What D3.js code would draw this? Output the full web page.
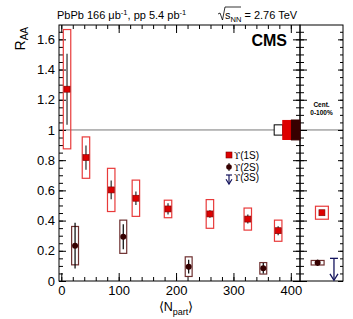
<!DOCTYPE html>
<html>
<head>
<meta charset="utf-8">
<script src="https://cdn.jsdelivr.net/npm/d3@7"></script>
<style>
  body { margin: 0; background: #fff; }
  svg { font-family: "Liberation Sans", Arial, sans-serif; }
</style>
</head>
<body>
<svg id="chart" width="353" height="319"></svg>
<script>
// Upsilon(1S) vs centrality
const npart1S = [10, 43, 87, 130, 186, 259, 325, 378];
const raa1S = [1.27, 0.817, 0.603, 0.548, 0.477, 0.444, 0.41, 0.333];
const stat1S = [0.235, 0.08, 0.062, 0.045, 0.037, 0.025, 0.03, 0.03];
const syst1S = [0.395, 0.137, 0.143, 0.12, 0.058, 0.095, 0.073, 0.07];

// Upsilon(2S) vs centrality
const npart2S = [24, 108, 222, 352];
const raa2S = [0.234, 0.293, 0.095, 0.084];
const stat2S = [0.152, 0.083, 0.045, 0.035];
const syst2S = [0.127, 0.11, 0.065, 0.038];

// centrality integrated (0-100%)
const intRaa1S = 0.452, intStat1S = 0.012, intSyst1S = 0.043;
const intRaa2S = 0.121, intStat2S = 0.02, intSyst2S = 0.015;
const limit3S = 0.15;

// global uncertainties at R_AA = 1: lumi, 1S pp, 2S pp
const globalNames = ["lumi", "1S", "2S"];
const globalUnc = [0.034, 0.063, 0.066];

const yMajor = [0, 0.2, 0.4, 0.6, 0.8, 1, 1.2, 1.4, 1.6];
const xMajor = [0, 100, 200, 300, 400];

const svg = d3.select("#chart");
const pLeft = 59, pRight = 300, pTop = 25, pBottom = 281, sideRight = 343;

let x = d3.scaleLinear().domain([-4, 416]).range([pLeft, pRight]);
let y = d3.scaleLinear().domain([0, 1.695]).range([pBottom, pTop]);
let xs = d3.scaleLinear().domain([0, 1]).range([pRight, sideRight]);

const red = "#dd0000", redBox = "#e83a3a", dark = "#360000", darkBox = "#6e3030", navy = "#15155e";

let yMinor = d3.range(0, 1.7, 0.05);
let xMinor = d3.range(0, 416, 20);

function noDomain(g) { g.select(".domain").remove(); }

// reference line at 1
svg.append("line")
    .attr("x1", pLeft).attr("x2", sideRight)
    .attr("y1", y(1)).attr("y2", y(1))
    .attr("stroke", "#777").attr("stroke-width", 1);

// left axis
svg.append("g").attr("transform", `translate(${pLeft},0)`)
    .call(d3.axisLeft(y).tickValues(yMinor).tickSize(-4).tickFormat(""))
    .call(noDomain);
svg.append("g").attr("transform", `translate(${pLeft},0)`)
    .call(d3.axisLeft(y).tickValues(yMajor).tickSize(-7).tickPadding(4)
        .tickFormat(d => d3.format("~g")(d)))
    .call(noDomain)
    .selectAll("text").attr("font-size", "13px").attr("fill", "#000");

// right axis of main panel + left axis of side panel
svg.append("g").attr("transform", `translate(${pRight},0)`)
    .call(d3.axisRight(y).tickValues(yMinor).tickSize(-4).tickFormat(""))
    .call(noDomain);
svg.append("g").attr("transform", `translate(${pRight},0)`)
    .call(d3.axisRight(y).tickValues(yMajor).tickSize(-7).tickFormat(""))
    .call(noDomain);
svg.append("g").attr("transform", `translate(${pRight},0)`)
    .call(d3.axisLeft(y).tickValues(yMinor).tickSize(-4).tickFormat(""))
    .call(noDomain);
svg.append("g").attr("transform", `translate(${pRight},0)`)
    .call(d3.axisLeft(y).tickValues(yMajor).tickSize(-7).tickFormat(""))
    .call(noDomain);
// side panel right edge
svg.append("g").attr("transform", `translate(${sideRight},0)`)
    .call(d3.axisRight(y).tickValues(yMinor).tickSize(-3).tickFormat(""))
    .call(noDomain);
svg.append("g").attr("transform", `translate(${sideRight},0)`)
    .call(d3.axisRight(y).tickValues(yMajor).tickSize(-5).tickFormat(""))
    .call(noDomain);

// bottom and top axes
svg.append("g").attr("transform", `translate(0,${pBottom})`)
    .call(d3.axisBottom(x).tickValues(xMinor).tickSize(-4).tickFormat(""))
    .call(noDomain);
svg.append("g").attr("transform", `translate(0,${pBottom})`)
    .call(d3.axisBottom(x).tickValues(xMajor).tickSize(-8).tickPadding(5))
    .call(noDomain)
    .selectAll("text").attr("font-size", "13px").attr("fill", "#000");
svg.append("g").attr("transform", `translate(0,${pTop})`)
    .call(d3.axisTop(x).tickValues(xMinor).tickSize(-4).tickFormat(""))
    .call(noDomain);
svg.append("g").attr("transform", `translate(0,${pTop})`)
    .call(d3.axisTop(x).tickValues(xMajor).tickSize(-8).tickFormat(""))
    .call(noDomain);

svg.selectAll(".tick line").attr("stroke", "#000");

// frames
svg.append("rect").attr("x", pLeft).attr("y", pTop)
    .attr("width", pRight - pLeft).attr("height", pBottom - pTop)
    .attr("fill", "none").attr("stroke", "#000");
svg.append("rect").attr("x", pRight).attr("y", pTop)
    .attr("width", sideRight - pRight).attr("height", pBottom - pTop)
    .attr("fill", "none").attr("stroke", "#000");

// global uncertainty boxes, stacked against the right edge
const gw = 15;
const gFill = ["#fff", red, dark];
globalUnc.forEach((u, i) => {
    let x1 = 416 - gw * (globalUnc.length - i);
    svg.append("rect")
        .attr("x", x(x1)).attr("width", x(x1 + gw) - x(x1))
        .attr("y", y(1 + u)).attr("height", y(1 - u) - y(1 + u))
        .attr("fill", gFill[i]).attr("stroke", i === 0 ? "#000" : gFill[i])
        .attr("stroke-width", 1);
});

// systematic boxes
const bw1 = 13, bw2 = 12;
npart1S.forEach((n, i) => {
    svg.append("rect")
        .attr("x", x(n - bw1 / 2)).attr("width", x(n + bw1 / 2) - x(n - bw1 / 2))
        .attr("y", y(raa1S[i] + syst1S[i])).attr("height", y(raa1S[i] - syst1S[i]) - y(raa1S[i] + syst1S[i]))
        .attr("fill", "none").attr("stroke", redBox).attr("stroke-width", 1.2);
});
npart2S.forEach((n, i) => {
    svg.append("rect")
        .attr("x", x(n - bw2 / 2)).attr("width", x(n + bw2 / 2) - x(n - bw2 / 2))
        .attr("y", y(raa2S[i] + syst2S[i])).attr("height", y(raa2S[i] - syst2S[i]) - y(raa2S[i] + syst2S[i]))
        .attr("fill", "none").attr("stroke", darkBox).attr("stroke-width", 1.2);
});

// stat error bars
npart1S.forEach((n, i) => {
    svg.append("line")
        .attr("x1", x(n)).attr("x2", x(n))
        .attr("y1", y(raa1S[i] + stat1S[i])).attr("y2", y(raa1S[i] - stat1S[i]))
        .attr("stroke", "#555").attr("stroke-width", 1.5);
});
npart2S.forEach((n, i) => {
    svg.append("line")
        .attr("x1", x(n)).attr("x2", x(n))
        .attr("y1", y(raa2S[i] + stat2S[i])).attr("y2", y(raa2S[i] - stat2S[i]))
        .attr("stroke", "#000").attr("stroke-width", 1.2);
});

// markers
const sq = 6;
npart1S.forEach((n, i) => {
    svg.append("rect")
        .attr("x", x(n) - sq / 2).attr("y", y(raa1S[i]) - sq / 2)
        .attr("width", sq).attr("height", sq)
        .attr("fill", red).attr("stroke", "#7a0000").attr("stroke-width", 0.6);
});
npart2S.forEach((n, i) => {
    svg.append("circle")
        .attr("cx", x(n)).attr("cy", y(raa2S[i])).attr("r", 3)
        .attr("fill", dark);
});

// side panel: centrality integrated
const side1S = 0.51, side2S = 0.41, side3S = 0.79, sideW = 0.3;
svg.append("rect")
    .attr("x", xs(side1S - sideW / 2)).attr("width", xs(side1S + sideW / 2) - xs(side1S - sideW / 2))
    .attr("y", y(intRaa1S + intSyst1S)).attr("height", y(intRaa1S - intSyst1S) - y(intRaa1S + intSyst1S))
    .attr("fill", "none").attr("stroke", redBox).attr("stroke-width", 1.2);
svg.append("line")
    .attr("x1", xs(side1S)).attr("x2", xs(side1S))
    .attr("y1", y(intRaa1S + intStat1S)).attr("y2", y(intRaa1S - intStat1S))
    .attr("stroke", "#555").attr("stroke-width", 1.5);
svg.append("rect")
    .attr("x", xs(side1S) - sq / 2).attr("y", y(intRaa1S) - sq / 2)
    .attr("width", sq).attr("height", sq)
    .attr("fill", red).attr("stroke", "#7a0000").attr("stroke-width", 0.6);

svg.append("rect")
    .attr("x", xs(side2S - sideW / 2)).attr("width", xs(side2S + sideW / 2) - xs(side2S - sideW / 2))
    .attr("y", y(intRaa2S + intSyst2S)).attr("height", y(intRaa2S - intSyst2S) - y(intRaa2S + intSyst2S))
    .attr("fill", "none").attr("stroke", darkBox).attr("stroke-width", 1.2);
svg.append("line")
    .attr("x1", xs(side2S)).attr("x2", xs(side2S))
    .attr("y1", y(intRaa2S + intStat2S)).attr("y2", y(intRaa2S - intStat2S))
    .attr("stroke", "#000").attr("stroke-width", 1.2);
svg.append("circle")
    .attr("cx", xs(side2S)).attr("cy", y(intRaa2S)).attr("r", 3)
    .attr("fill", dark);

// 3S upper limit arrow
function arrow(g, cx, yTop, yBot, w, head) {
    g.append("line").attr("x1", cx - w / 2).attr("x2", cx + w / 2)
        .attr("y1", yTop).attr("y2", yTop);
    g.append("line").attr("x1", cx).attr("x2", cx)
        .attr("y1", yTop).attr("y2", yBot);
    g.append("path")
        .attr("d", `M${cx - head / 2},${yBot - head * 0.8}L${cx},${yBot}L${cx + head / 2},${yBot - head * 0.8}`)
        .attr("fill", "none");
}
let a3 = svg.append("g").attr("stroke", navy).attr("stroke-width", 1.3);
arrow(a3, xs(side3S), y(limit3S), y(0.005), 8, 8);

svg.append("text").attr("x", xs(0.5)).attr("y", 107)
    .attr("text-anchor", "middle").attr("font-size", "6.5px").attr("font-weight", "bold")
    .text("Cent.");
svg.append("text").attr("x", xs(0.5)).attr("y", 115)
    .attr("text-anchor", "middle").attr("font-size", "6.5px").attr("font-weight", "bold")
    .text("0-100%");

// legend
const legY = [155, 167, 179];
const legLabels = ["(1S)", "(2S)", "(3S)"];
svg.append("rect").attr("x", 229 - 3).attr("y", legY[0] - 3).attr("width", 6).attr("height", 6)
    .attr("fill", red).attr("stroke", "#7a0000").attr("stroke-width", 0.6);
svg.append("line").attr("x1", 229).attr("x2", 229).attr("y1", legY[1] - 4).attr("y2", legY[1] + 4)
    .attr("stroke", "#000");
svg.append("circle").attr("cx", 229).attr("cy", legY[1]).attr("r", 2.8).attr("fill", dark);
let a3l = svg.append("g").attr("stroke", navy).attr("stroke-width", 1.2);
arrow(a3l, 229, legY[2] - 4, legY[2] + 5, 6, 6);
legLabels.forEach((t, i) => {
    let tx = svg.append("text").attr("x", 234).attr("y", legY[i] + (i === 2 ? 2 : 3.5))
        .attr("font-size", "10px");
    tx.append("tspan").attr("font-family", "'DejaVu Serif', serif").attr("font-size", "9px").text("ϒ");
    tx.append("tspan").text(t);
});

// CMS label
svg.append("text").attr("x", 287).attr("y", 46).attr("text-anchor", "end")
    .attr("font-size", "16px").attr("font-weight", "bold").text("CMS");

// header
let h1 = svg.append("text").attr("x", 57).attr("y", 19).attr("font-size", "11px");
h1.append("tspan").text("PbPb 166 μb");
h1.append("tspan").attr("font-size", "7.5px").attr("dy", -4).text("-1");
h1.append("tspan").attr("dy", 4).text(", pp 5.4 pb");
h1.append("tspan").attr("font-size", "7.5px").attr("dy", -4).text("-1");

let h2 = svg.append("text").attr("x", 225).attr("y", 19).attr("font-size", "11px");
h2.append("tspan").text("s");
h2.append("tspan").attr("font-size", "7.5px").attr("dy", 2.5).text("NN");
h2.append("tspan").attr("dy", -2.5).text(" = 2.76 TeV");
// sqrt sign
svg.append("path").attr("d", "M218,14 L220,13 L222.5,20 L225,7 L241,7")
    .attr("fill", "none").attr("stroke", "#000").attr("stroke-width", 0.8);

// axis titles
let yt = svg.append("text").attr("transform", "translate(25,27) rotate(-90)")
    .attr("text-anchor", "end").attr("font-size", "14px");
yt.append("tspan").text("R");
yt.append("tspan").attr("font-size", "10px").attr("dy", 3).text("AA");

let xt = svg.append("text").attr("x", 176).attr("y", 311)
    .attr("text-anchor", "middle").attr("font-size", "12.5px");
xt.append("tspan").text("⟨N");
xt.append("tspan").attr("font-size", "9px").attr("dy", 4).text("part");
xt.append("tspan").attr("dy", -4).text("⟩");
</script>
</body>
</html>
